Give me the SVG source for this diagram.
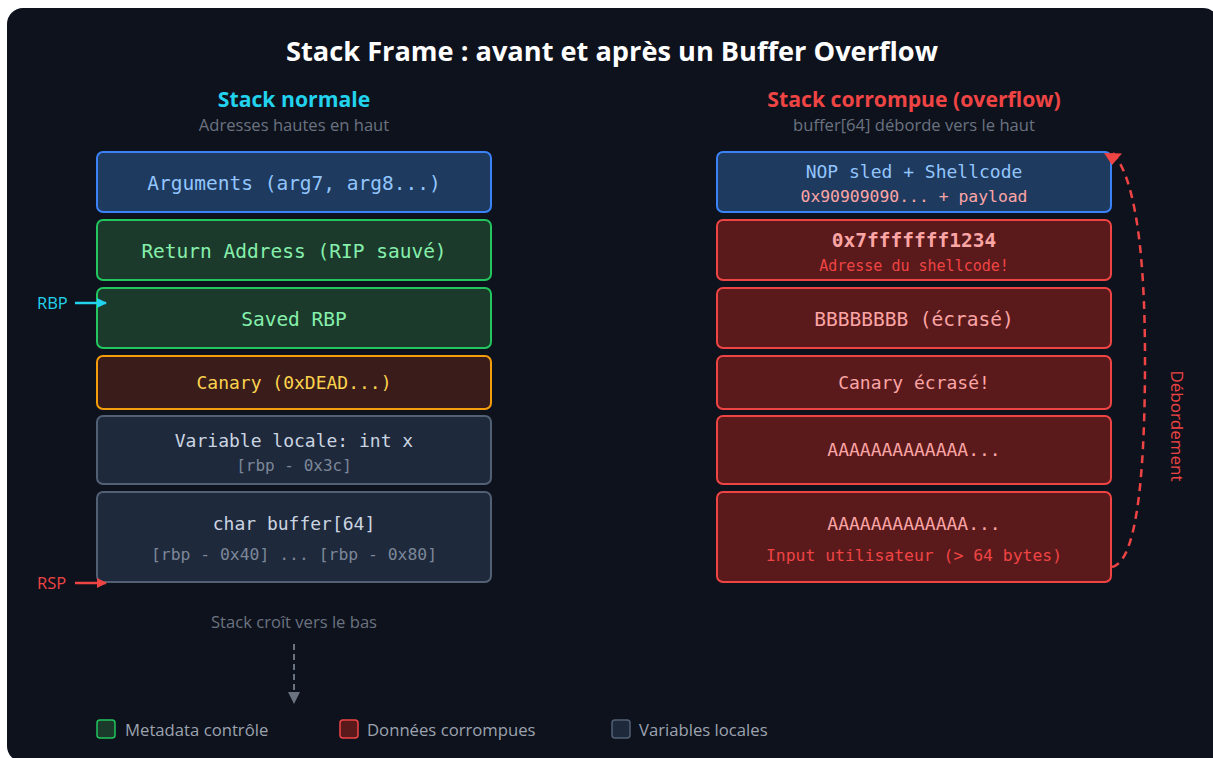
<svg xmlns="http://www.w3.org/2000/svg" width="1213" height="758" viewBox="0 0 1213 758">
<style>
.sans{font-family:"Open Sans","Noto Sans","Liberation Sans",sans-serif}
.mono{font-family:"DejaVu Sans Mono","Liberation Mono",monospace}
.title{font-size:27.2px;font-weight:700;fill:#ffffff}
.h{font-size:21.2px;font-weight:700}
.sub{font-size:16.6px;fill:#6b7280}
.box{stroke-width:2}
.blue{fill:#1e3a5f;stroke:#3b82f6}
.green{fill:#1b3a2b;stroke:#22c55e}
.amber{fill:#3a1d1b;stroke:#f59e0b}
.gray{fill:#1e293b;stroke:#526075}
.red{fill:#5a1a1c;stroke:#ef4444}
.t-blue{fill:#93c5fd}
.t-green{fill:#86efac}
.t-amber{fill:#fcd34d}
.t-gray{fill:#cbd5e1}
.t-gray2{fill:#7c8799}
.t-pink{fill:#fca5a5}
.t-red{fill:#ef4444}
.legend{font-size:16.7px;fill:#9ca3af}
</style>
<defs>
<marker id="arrCyan" markerWidth="10" markerHeight="10" refX="9" refY="5" orient="auto" markerUnits="userSpaceOnUse"><path d="M0,0 L10,5 L0,10 z" fill="#22d3ee"/></marker>
<marker id="arrRed" markerWidth="10" markerHeight="10" refX="9" refY="5" orient="auto" markerUnits="userSpaceOnUse"><path d="M0,0 L10,5 L0,10 z" fill="#ef4444"/></marker>
<marker id="arrGray" markerWidth="12" markerHeight="12" refX="6" refY="1" orient="0" markerUnits="userSpaceOnUse"><path d="M0,0 L12,0 L6,12 z" fill="#6b7280"/></marker>
<marker id="arrOver" markerWidth="20" markerHeight="14" refX="9" refY="0" orient="0" markerUnits="userSpaceOnUse"><path d="M0,0 L18,0.6 L8,12 z" fill="#ef4444"/></marker>
</defs>
<rect x="7" y="8" width="1212" height="754" rx="16" fill="#0e121d"/>
<text class="sans title" x="612" y="61" text-anchor="middle">Stack Frame : avant et après un Buffer Overflow</text>
<text class="sans h" x="294" y="107" text-anchor="middle" fill="#22d3ee">Stack normale</text>
<text class="sans sub" x="294" y="131" text-anchor="middle">Adresses hautes en haut</text>
<text class="sans h" x="914" y="107" text-anchor="middle" fill="#ef4444">Stack corrompue (overflow)</text>
<text class="sans sub" x="914" y="131" text-anchor="middle">buffer[64] déborde vers le haut</text>

<g id="n-args"><rect class="box blue" x="97" y="152" width="394" height="60" rx="6"/><text class="mono t-blue" x="294" y="190" font-size="19.5" text-anchor="middle">Arguments (arg7, arg8...)</text></g>
<g id="n-ret"><rect class="box green" x="97" y="220" width="394" height="60" rx="6"/><text class="mono t-green" x="294" y="258" font-size="19.5" text-anchor="middle">Return Address (RIP sauvé)</text></g>
<g id="n-rbp"><rect class="box green" x="97" y="288" width="394" height="60" rx="6"/><text class="mono t-green" x="294" y="326" font-size="19.5" text-anchor="middle">Saved RBP</text></g>
<g id="n-canary"><rect class="box amber" x="97" y="356" width="394" height="53" rx="6"/><text class="mono t-amber" x="294" y="389" font-size="18" text-anchor="middle">Canary (0xDEAD...)</text></g>
<g id="n-var"><rect class="box gray" x="97" y="416" width="394" height="68" rx="6"/><text class="mono t-gray" x="294" y="447" font-size="18" text-anchor="middle">Variable locale: int x</text><text class="mono t-gray2" x="294" y="471" font-size="16" text-anchor="middle">[rbp - 0x3c]</text></g>
<g id="n-buf"><rect class="box gray" x="97" y="492" width="394" height="90" rx="6"/><text class="mono t-gray" x="294" y="530" font-size="18" text-anchor="middle">char buffer[64]</text><text class="mono t-gray2" x="294" y="560" font-size="16.4" text-anchor="middle">[rbp - 0x40] ... [rbp - 0x80]</text></g>

<g id="n-nop"><rect class="box blue" x="717" y="152" width="394" height="60" rx="6"/><text class="mono t-blue" x="914" y="178" font-size="18" text-anchor="middle">NOP sled + Shellcode</text><text class="mono t-pink" x="914" y="202" font-size="16.4" text-anchor="middle">0x90909090... + payload</text></g>
<g id="n-addr"><rect class="box red" x="717" y="220" width="394" height="60" rx="6"/><text class="mono t-pink" x="914" y="247" font-size="19.5" font-weight="700" text-anchor="middle">0x7fffffff1234</text><text class="mono t-red" x="914" y="271" font-size="15" text-anchor="middle">Adresse du shellcode!</text></g>
<g id="n-bbb"><rect class="box red" x="717" y="288" width="394" height="60" rx="6"/><text class="mono t-pink" x="914" y="326" font-size="19.5" text-anchor="middle">BBBBBBBB (écrasé)</text></g>
<g id="n-canary2"><rect class="box red" x="717" y="356" width="394" height="53" rx="6"/><text class="mono t-pink" x="914" y="389" font-size="18" text-anchor="middle">Canary écrasé!</text></g>
<g id="n-aaa1"><rect class="box red" x="717" y="416" width="394" height="68" rx="6"/><text class="mono t-pink" x="914" y="456" font-size="18" text-anchor="middle">AAAAAAAAAAAAA...</text></g>
<g id="n-aaa2"><rect class="box red" x="717" y="492" width="394" height="90" rx="6"/><text class="mono t-pink" x="914" y="530" font-size="18" text-anchor="middle">AAAAAAAAAAAAA...</text><text class="mono t-red" x="914" y="561" font-size="16.4" text-anchor="middle">Input utilisateur (&gt; 64 bytes)</text></g>

<g id="connectors">
<text class="sans" x="37" y="309" font-size="16.5" fill="#22d3ee">RBP</text>
<line x1="75" y1="303" x2="106" y2="303" stroke="#22d3ee" stroke-width="2.5" marker-end="url(#arrCyan)"/>
<text class="sans" x="37" y="589" font-size="16.5" fill="#ef4444">RSP</text>
<line x1="75" y1="583" x2="106" y2="583" stroke="#ef4444" stroke-width="2.5" marker-end="url(#arrRed)"/>
<text class="sans sub" x="294" y="628" text-anchor="middle">Stack croît vers le bas</text>
<line x1="294" y1="644" x2="294" y2="693" stroke="#6b7280" stroke-width="2" stroke-dasharray="6,4" marker-end="url(#arrGray)"/>
<path d="M1112,567 Q1145,560 1145,360 Q1145,190 1113,153" fill="none" stroke="#ef4444" stroke-width="2.5" stroke-dasharray="8,6" marker-end="url(#arrOver)"/>
<text class="sans" x="0" y="0" font-size="17" fill="#ef4444" text-anchor="middle" transform="translate(1171,426) rotate(90)">Débordement</text>
</g>

<g id="legend">
<rect x="97" y="720" width="18" height="18" rx="3" fill="#1b3a2b" stroke="#22c55e" stroke-width="1.5"/>
<text class="sans legend" x="125" y="736">Metadata contrôle</text>
<rect x="340" y="720" width="18" height="18" rx="3" fill="#5a1a1c" stroke="#ef4444" stroke-width="1.5"/>
<text class="sans legend" x="367" y="736">Données corrompues</text>
<rect x="612" y="720" width="18" height="18" rx="3" fill="#1e293b" stroke="#526075" stroke-width="1.5"/>
<text class="sans legend" x="639" y="736">Variables locales</text>
</g>
</svg>
